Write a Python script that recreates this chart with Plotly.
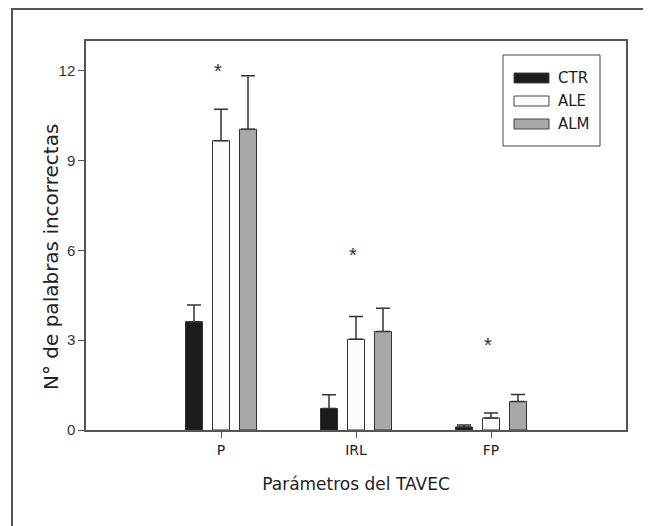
import plotly.graph_objects as go

categories = ["P", "IRL", "FP"]
series_names = ["CTR", "ALE", "ALM"]
ctr_values = [3.62, 0.72, 0.10]
ale_values = [9.67, 3.03, 0.40]
alm_values = [10.05, 3.29, 0.95]
ctr_errors = [0.56, 0.46, 0.07]
ale_errors = [1.05, 0.76, 0.17]
alm_errors = [1.79, 0.78, 0.24]
star_values = [12.0, 5.85, 2.84]
y_ticks = [0, 3, 6, 9, 12]

colors = ["#1c1c1c", "#fbfbfb", "#a9a9a9"]
values = [ctr_values, ale_values, alm_values]
errors = [ctr_errors, ale_errors, alm_errors]

fig = go.Figure()
for name, vals, errs, col in zip(series_names, values, errors, colors):
    fig.add_trace(go.Bar(
        x=categories, y=vals, name=name,
        marker=dict(color=col, line=dict(color="#333333", width=1)),
        error_y=dict(type="data", symmetric=False, array=errs,
                     arrayminus=[0] * len(errs), color="#333333",
                     thickness=1.5, width=7),
        showlegend=False,
    ))

# significance stars
for cat, sv in zip(categories, star_values):
    fig.add_annotation(x=cat, y=sv, text="*", showarrow=False, xshift=-3,
                       font=dict(family="Liberation Sans", size=20, color="#333333"))

# page offset (body margin) compensation
OFF = 8
W, H = 651 - OFF, 526 - OFF
L, R, T, B = 86 - OFF, 25, 41 - OFF, 96
pw, ph = W - L - R, H - T - B
def px(xw):
    return (xw - OFF - L) / pw
def py(yw):
    return (H - B - (yw - OFF)) / ph

fig.add_shape(type="rect", xref="paper", yref="paper",
              x0=px(503), x1=px(600), y0=py(146), y1=py(55),
              line=dict(color="#444444", width=1), fillcolor="white")
row_y = [78, 101, 124]
for name, col, ry in zip(series_names, colors, row_y):
    fig.add_shape(type="rect", xref="paper", yref="paper",
                  x0=px(514), x1=px(549), y0=py(ry + 5), y1=py(ry - 5),
                  line=dict(color="#444444", width=1), fillcolor=col)
    fig.add_annotation(xref="paper", yref="paper", x=px(556), y=py(ry),
                       text=name, showarrow=False, xanchor="left", yanchor="middle",
                       font=dict(family="DejaVu Sans", size=15, color="#222222"))

# outer frame
fig.add_shape(type="rect", xref="paper", yref="paper",
              x0=px(12), x1=px(648), y0=py(540), y1=py(9),
              line=dict(color="#555555", width=2))

# y title
fig.add_annotation(xref="paper", yref="paper", x=px(37), y=py(257),
                   text="N° de palabras incorrectas", textangle=-90, showarrow=False,
                   font=dict(family="DejaVu Sans", size=20, color="#222222"))

fig.update_layout(
    width=W, height=H,
    margin=dict(l=L, r=R, t=T, b=B),
    paper_bgcolor="white", plot_bgcolor="white",
    barmode="group", bargap=0.4, bargroupgap=0.37,
    showlegend=False,
    xaxis=dict(range=[-1, 3], showline=True, linecolor="#555555", linewidth=1.5,
               mirror=True, ticks="outside", ticklen=6, tickcolor="#555555",
               showgrid=False, zeroline=False,
               tickfont=dict(family="DejaVu Sans", size=14, color="#222222"),
               title=dict(text="Parámetros del TAVEC", standoff=22,
                          font=dict(family="DejaVu Sans", size=17, color="#222222"))),
    yaxis=dict(range=[0, 13], tickvals=y_ticks, showline=True, linecolor="#555555",
               linewidth=1.5, mirror=True, ticks="outside", ticklen=6,
               tickcolor="#555555", showgrid=False, zeroline=False,
               tickfont=dict(family="Liberation Sans", size=15, color="#333333")),
)

fig.write_html("out.html")
